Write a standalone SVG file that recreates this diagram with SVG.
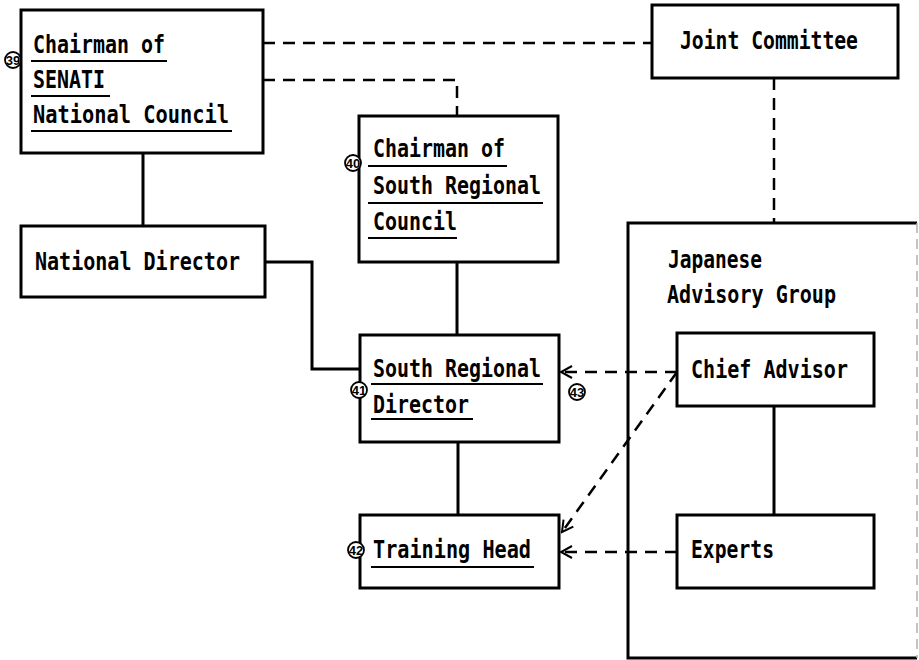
<svg xmlns="http://www.w3.org/2000/svg" width="919" height="660" viewBox="0 0 919 660">
  <style>
    .box { fill: #ffffff; stroke: #000000; stroke-width: 3; }
    .solid { fill: none; stroke: #000000; stroke-width: 3; }
    .dash { fill: none; stroke: #000000; stroke-width: 2.5; stroke-dasharray: 12 8; }
    .ul { stroke: #000000; stroke-width: 2; }
    .t { font-family: "DejaVu Sans Mono", "Liberation Mono", monospace; font-weight: bold; font-size: 24px; fill: #000000; }
    .badge circle { fill: #ffffff; stroke: #000000; stroke-width: 1.8; }
    .badge text { font-family: "Liberation Sans Narrow", "Liberation Sans", sans-serif; font-weight: bold; font-size: 13px; fill: #000000; text-anchor: middle; }
  </style>
  <defs>
    <marker id="open" markerWidth="14" markerHeight="14" refX="12" refY="7" orient="auto" markerUnits="userSpaceOnUse">
      <path d="M1,1 L12,7 L1,13" fill="none" stroke="#000000" stroke-width="2"/>
    </marker>
  </defs>

  <rect width="919" height="660" fill="#ffffff"/>

  <!-- connectors -->
  <g id="connectors">
    <line class="solid" x1="143" y1="153" x2="143" y2="226"/>
    <polyline class="solid" points="265,262 312,262 312,369 360,369"/>
    <line class="solid" x1="457" y1="262" x2="457" y2="335"/>
    <line class="solid" x1="458" y1="442" x2="458" y2="515"/>
    <line class="solid" x1="774" y1="406" x2="774" y2="515"/>
    <line class="dash" x1="263" y1="43" x2="652" y2="43"/>
    <polyline class="dash" points="263,80 457,80 457,116"/>
    <line class="dash" x1="774" y1="78" x2="774" y2="223"/>
    <line class="dash" x1="677" y1="372" x2="561" y2="372" marker-end="url(#open)"/>
    <line class="dash" x1="677" y1="372" x2="562" y2="532" marker-end="url(#open)"/>
    <line class="dash" x1="677" y1="552" x2="561" y2="552" marker-end="url(#open)"/>
  </g>

  <!-- advisory group frame -->
  <g id="advisory-group">
    <path d="M917,223 L628,223 L628,658 L917,658" class="solid"/>
    <line x1="917" y1="223" x2="917" y2="658" stroke="#b0b0b0" stroke-width="1.5" stroke-dasharray="10 6"/>
    <text class="t" x="668" y="268" textLength="94" lengthAdjust="spacingAndGlyphs">Japanese</text>
    <text class="t" x="667" y="303" textLength="169" lengthAdjust="spacingAndGlyphs">Advisory Group</text>
  </g>

  <g id="senati-chairman">
    <rect class="box" x="21" y="10" width="242" height="143"/>
    <text class="t" x="33" y="53" textLength="132" lengthAdjust="spacingAndGlyphs">Chairman of</text>
    <text class="t" x="33" y="88" textLength="72" lengthAdjust="spacingAndGlyphs">SENATI</text>
    <text class="t" x="33" y="123" textLength="196" lengthAdjust="spacingAndGlyphs">National Council</text>
    <line class="ul" x1="31" y1="61" x2="167" y2="61"/>
    <line class="ul" x1="31" y1="96" x2="110" y2="96"/>
    <line class="ul" x1="31" y1="131" x2="232" y2="131"/>
    <g class="badge"><circle cx="13" cy="60" r="8"/><text x="13" y="64.5">39</text></g>
  </g>

  <g id="joint-committee">
    <rect class="box" x="652" y="5" width="246" height="73"/>
    <text class="t" x="680" y="49" textLength="178" lengthAdjust="spacingAndGlyphs">Joint Committee</text>
  </g>

  <g id="national-director">
    <rect class="box" x="21" y="226" width="244" height="71"/>
    <text class="t" x="35" y="270" textLength="205" lengthAdjust="spacingAndGlyphs">National Director</text>
  </g>

  <g id="south-council-chairman">
    <rect class="box" x="359" y="116" width="199" height="146"/>
    <text class="t" x="373" y="157" textLength="132" lengthAdjust="spacingAndGlyphs">Chairman of</text>
    <text class="t" x="373" y="194" textLength="168" lengthAdjust="spacingAndGlyphs">South Regional</text>
    <text class="t" x="373" y="230" textLength="84" lengthAdjust="spacingAndGlyphs">Council</text>
    <line class="ul" x1="368" y1="166" x2="507" y2="166"/>
    <line class="ul" x1="368" y1="203" x2="543" y2="203"/>
    <line class="ul" x1="368" y1="238" x2="457" y2="238"/>
    <g class="badge"><circle cx="353" cy="163" r="8"/><text x="353" y="167.5">40</text></g>
  </g>

  <g id="south-director">
    <rect class="box" x="360" y="335" width="199" height="107"/>
    <text class="t" x="373" y="377" textLength="168" lengthAdjust="spacingAndGlyphs">South Regional</text>
    <text class="t" x="373" y="413" textLength="96" lengthAdjust="spacingAndGlyphs">Director</text>
    <line class="ul" x1="371" y1="384" x2="543" y2="384"/>
    <line class="ul" x1="371" y1="419" x2="473" y2="419"/>
    <g class="badge"><circle cx="359" cy="390" r="8"/><text x="359" y="394.5">41</text></g>
    <g class="badge"><circle cx="577" cy="392" r="8"/><text x="577" y="396.5">43</text></g>
  </g>

  <g id="training-head">
    <rect class="box" x="360" y="515" width="199" height="73"/>
    <text class="t" x="373" y="558" textLength="158" lengthAdjust="spacingAndGlyphs">Training Head</text>
    <line class="ul" x1="371" y1="567" x2="534" y2="567"/>
    <g class="badge"><circle cx="356" cy="550" r="8"/><text x="356" y="554.5">42</text></g>
  </g>

  <g id="chief-advisor">
    <rect class="box" x="677" y="333" width="197" height="73"/>
    <text class="t" x="691" y="378" textLength="157" lengthAdjust="spacingAndGlyphs">Chief Advisor</text>
  </g>

  <g id="experts">
    <rect class="box" x="677" y="515" width="197" height="73"/>
    <text class="t" x="691" y="558" textLength="83" lengthAdjust="spacingAndGlyphs">Experts</text>
  </g>
</svg>
